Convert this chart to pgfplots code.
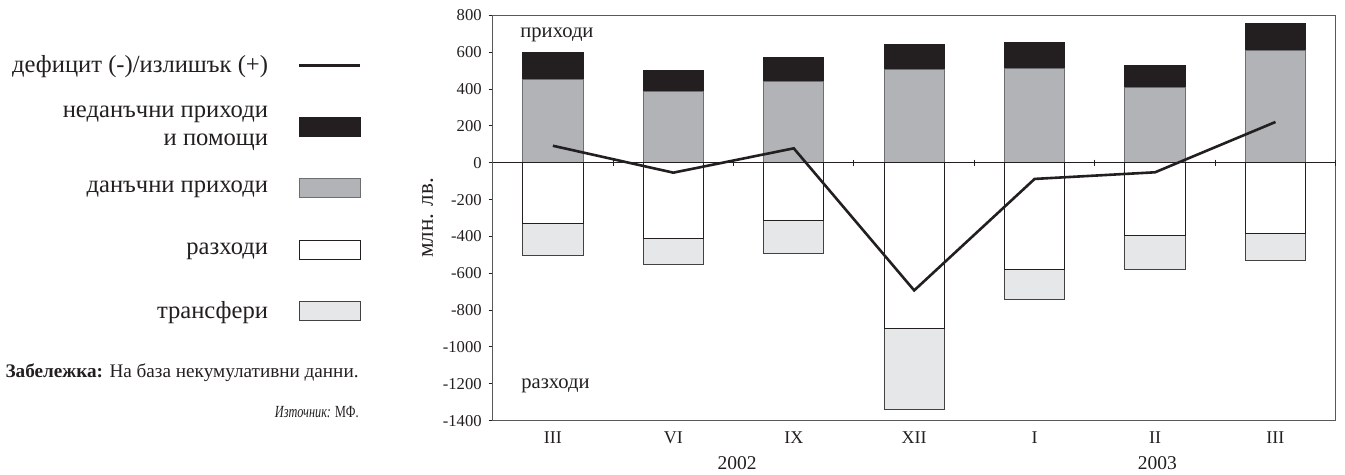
\documentclass[border=0pt]{standalone}
\usepackage{fontspec}
\setmainfont{Liberation Serif}
\usepackage{pgfplots}
\pgfplotsset{compat=1.18}

\definecolor{ink}{HTML}{231F20}
\definecolor{taxgray}{HTML}{B1B3B6}
\definecolor{edgegray}{HTML}{6D6E71}
\definecolor{lightfill}{HTML}{E6E7E8}
\definecolor{frame}{HTML}{58595B}

\pgfplotsset{
  boxlegend/.style={legend image code/.code={\draw[##1] (0pt,-4.75pt) rectangle (30.5pt,4.75pt);}},
  linelegend/.style={legend image code/.code={\draw[##1] (0pt,0pt) -- (30.5pt,0pt);}},
}

\begin{document}
\begin{tikzpicture}
\useasboundingbox (-246.35pt,-27.15pt) rectangle (426.15pt,210.35pt);
\begin{axis}[
  at={(0pt,0pt)}, anchor=south west,
  scale only axis, width=421.5pt, height=202.7pt,
  xmin=0.5, xmax=7.5, ymin=-1400, ymax=800,
  clip=false,
  xtick={1,...,7},
  xticklabels={III,VI,IX,XII,I,II,III},
  major x tick style={draw=none},
  x tick label style={font=\fontsize{9}{10}\selectfont, text=ink},
  ytick={-1400,-1200,...,800},
  ytick pos=left,
  tick align=outside,
  major tick length=2pt,
  y tick style={ink, line width=0.5pt},
  y tick label style={font=\fontsize{8.3}{9}\selectfont, text=ink},
  /pgf/number format/assume math mode=true,
  /pgf/number format/1000 sep={},
  axis line style={frame, line width=0.5pt},
  ylabel={млн. лв.},
  ylabel style={font=\fontsize{11.5}{13}\selectfont, text=ink, at={(axis description cs:-0.077,0.5)}, anchor=center},
  legend plot pos=right,
  legend style={draw=none, fill=none, inner sep=0pt, row sep=3.75pt, column sep=13pt,
    font=\fontsize{12.3}{14}\selectfont, text=ink,
    at={(axis description cs:-0.155,0.944)}, anchor=north east,
    cells={anchor=east, align=right, minimum height=27pt, inner sep=0pt}},
]

% приходи: неданъчни (обща височина) и данъчни
\addplot[ybar, bar width=0.5, fill=ink, draw=ink, line width=0.5pt, forget plot]
  coordinates {(1,599) (2,503) (3,572) (4,644) (5,651) (6,530) (7,753)};
\addplot[ybar, bar width=0.5, fill=taxgray, draw=edgegray, line width=0.5pt, forget plot]
  coordinates {(1,449) (2,389) (3,443) (4,508) (5,510) (6,407) (7,611)};

% разходи: трансфери (обща дълбочина) и разходи
\addplot[ybar, bar width=0.5, fill=lightfill, draw=ink!85, line width=0.5pt, forget plot]
  coordinates {(1,-506) (2,-555) (3,-494) (4,-1338) (5,-740) (6,-582) (7,-533)};
\addplot[ybar, bar width=0.5, fill=white, draw=ink, line width=0.5pt, forget plot]
  coordinates {(1,-329) (2,-409) (3,-315) (4,-902) (5,-581) (6,-396) (7,-383)};

% нулева линия с деления между категориите
\addplot[ink, line width=0.6pt, forget plot] coordinates {(0.5,0) (7.5,0)};
\addplot[only marks, mark=|, mark size=1.5pt, mark options={ink, line width=0.5pt}, forget plot]
  coordinates {(1.5,0) (2.5,0) (3.5,0) (4.5,0) (5.5,0) (6.5,0) (7.5,0)};

% дефицит/излишък
\addplot[ink, line width=1.3pt, forget plot]
  coordinates {(1,92) (2,-54) (3,78) (4,-693) (5,-88) (6,-52) (7,221)};

\addlegendimage{linelegend, ink, line width=1.3pt}
\addlegendentry{дефицит (-)/излишък (+)}
\addlegendimage{boxlegend, fill=ink, draw=ink, line width=0.5pt}
\addlegendentry{неданъчни приходи\\и помощи}
\addlegendimage{boxlegend, fill=taxgray, draw=edgegray, line width=0.5pt}
\addlegendentry{данъчни приходи}
\addlegendimage{boxlegend, fill=white, draw=ink, line width=0.5pt}
\addlegendentry{разходи}
\addlegendimage{boxlegend, fill=lightfill, draw=ink!85, line width=0.5pt}
\addlegendentry{трансфери}

\node[anchor=west, inner sep=0pt, font=\fontsize{10.3}{12}\selectfont, text=ink] at (axis cs:0.727,693) {приходи};
\node[anchor=west, inner sep=0pt, font=\fontsize{10.3}{12}\selectfont, text=ink] at (axis cs:0.735,-1213) {разходи};
\node[font=\fontsize{9.75}{11}\selectfont, text=ink] at (axis cs:2.53,-1630) {2002};
\node[font=\fontsize{9.75}{11}\selectfont, text=ink] at (axis cs:6.02,-1630) {2003};
\end{axis}

\node[anchor=east, inner sep=0pt, font=\fontsize{9.6}{11}\selectfont, text=ink] at (-66.85pt,23.85pt)
  {\textbf{Забележка:} На база некумулативни данни.};
\node[anchor=east, inner sep=0pt, font=\fontsize{8.5}{10}\selectfont, text=ink] at (-66.85pt,4.35pt)
  {\scalebox{0.72}[1]{\textit{Източник:} МФ.}};
\end{tikzpicture}
\end{document}
